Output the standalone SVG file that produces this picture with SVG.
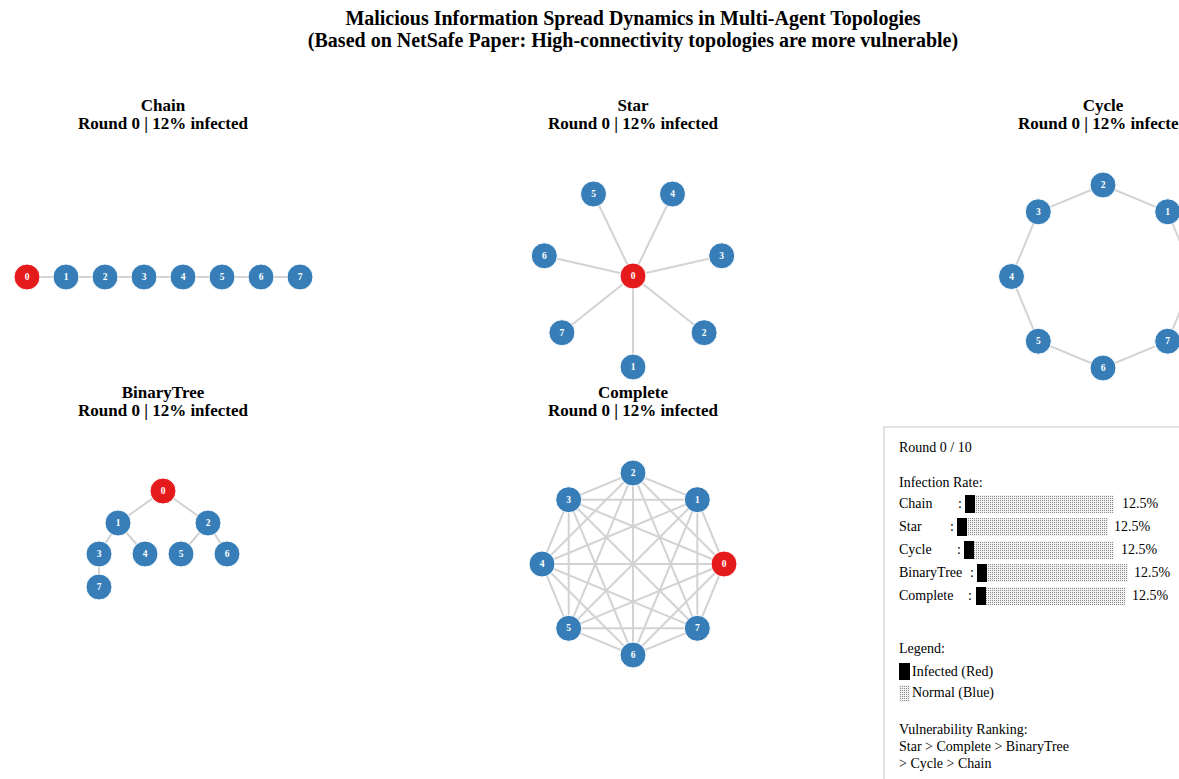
<svg xmlns="http://www.w3.org/2000/svg" width="1179" height="779" viewBox="0 0 1179 779">
  <style>
    .title { font-family: "Liberation Serif", "Times New Roman", serif; font-weight: bold; font-size: 20px; fill: #000; text-anchor: middle; }
    .sub { font-family: "Liberation Serif", "Times New Roman", serif; font-weight: bold; font-size: 17px; fill: #000; text-anchor: middle; }
    .edge { stroke: #d3d3d3; stroke-width: 2; fill: none; }
    .node circle { stroke: #ffffff; stroke-width: 1; }
    .node.normal circle { fill: #377eb8; }
    .node.infected circle { fill: #e41a1c; }
    .node text { font-family: "Liberation Serif", "Times New Roman", serif; font-weight: bold; font-size: 9.5px; fill: #ffffff; text-anchor: middle; }
    .info { font-family: "Liberation Serif", "Times New Roman", serif; font-size: 14px; fill: #000; }
    .bar-on { fill: #000; }
    .bar-off { fill: url(#shade); }
  </style>
  <defs>
    <pattern id="shade" width="2" height="2" patternUnits="userSpaceOnUse">
      <rect width="2" height="2" fill="#f2f2f2"/>
      <rect width="1" height="1" fill="#8c8c8c"/>
    </pattern>
  </defs>

  <rect width="1179" height="779" fill="#ffffff"/>

  <!-- figure title -->
  <text class="title" x="633" y="25">Malicious Information Spread Dynamics in Multi-Agent Topologies</text>
  <text class="title" x="633" y="47">(Based on NetSafe Paper: High-connectivity topologies are more vulnerable)</text>

  <!-- panel headings -->
  <text class="sub" x="163" y="111">Chain</text>
  <text class="sub" x="163" y="129">Round 0 | 12% infected</text>
  <text class="sub" x="633" y="111">Star</text>
  <text class="sub" x="633" y="129">Round 0 | 12% infected</text>
  <text class="sub" x="1103" y="111">Cycle</text>
  <text class="sub" x="1103" y="129">Round 0 | 12% infected</text>
  <text class="sub" x="163" y="398">BinaryTree</text>
  <text class="sub" x="163" y="416">Round 0 | 12% infected</text>
  <text class="sub" x="633" y="398">Complete</text>
  <text class="sub" x="633" y="416">Round 0 | 12% infected</text>

  <!-- ===== Chain ===== -->
  <g id="chain-edges" class="edge">
    <line x1="27" y1="277" x2="66" y2="277"/>
    <line x1="66" y1="277" x2="105" y2="277"/>
    <line x1="105" y1="277" x2="144" y2="277"/>
    <line x1="144" y1="277" x2="183" y2="277"/>
    <line x1="183" y1="277" x2="222" y2="277"/>
    <line x1="222" y1="277" x2="261" y2="277"/>
    <line x1="261" y1="277" x2="300" y2="277"/>
  </g>
  <g id="chain-n0" class="node infected"><circle cx="27" cy="277" r="13"/><text x="27" y="280">0</text></g>
  <g id="chain-n1" class="node normal"><circle cx="66" cy="277" r="13"/><text x="66" y="280">1</text></g>
  <g id="chain-n2" class="node normal"><circle cx="105" cy="277" r="13"/><text x="105" y="280">2</text></g>
  <g id="chain-n3" class="node normal"><circle cx="144" cy="277" r="13"/><text x="144" y="280">3</text></g>
  <g id="chain-n4" class="node normal"><circle cx="183" cy="277" r="13"/><text x="183" y="280">4</text></g>
  <g id="chain-n5" class="node normal"><circle cx="222" cy="277" r="13"/><text x="222" y="280">5</text></g>
  <g id="chain-n6" class="node normal"><circle cx="261" cy="277" r="13"/><text x="261" y="280">6</text></g>
  <g id="chain-n7" class="node normal"><circle cx="300" cy="277" r="13"/><text x="300" y="280">7</text></g>

  <!-- ===== Star ===== -->
  <g id="star-edges" class="edge">
    <line x1="633" y1="276" x2="633" y2="367"/>
    <line x1="633" y1="276" x2="704.1" y2="332.7"/>
    <line x1="633" y1="276" x2="721.7" y2="255.8"/>
    <line x1="633" y1="276" x2="672.5" y2="194"/>
    <line x1="633" y1="276" x2="593.5" y2="194"/>
    <line x1="633" y1="276" x2="544.3" y2="255.8"/>
    <line x1="633" y1="276" x2="561.9" y2="332.7"/>
  </g>
  <g id="star-n0" class="node infected"><circle cx="633" cy="276" r="13"/><text x="633" y="279">0</text></g>
  <g id="star-n1" class="node normal"><circle cx="633" cy="367" r="13"/><text x="633" y="370">1</text></g>
  <g id="star-n2" class="node normal"><circle cx="704.1" cy="332.7" r="13"/><text x="704.1" y="335.7">2</text></g>
  <g id="star-n3" class="node normal"><circle cx="721.7" cy="255.8" r="13"/><text x="721.7" y="258.8">3</text></g>
  <g id="star-n4" class="node normal"><circle cx="672.5" cy="194" r="13"/><text x="672.5" y="197">4</text></g>
  <g id="star-n5" class="node normal"><circle cx="593.5" cy="194" r="13"/><text x="593.5" y="197">5</text></g>
  <g id="star-n6" class="node normal"><circle cx="544.3" cy="255.8" r="13"/><text x="544.3" y="258.8">6</text></g>
  <g id="star-n7" class="node normal"><circle cx="561.9" cy="332.7" r="13"/><text x="561.9" y="335.7">7</text></g>

  <!-- ===== Cycle ===== -->
  <g id="cycle-edges" class="edge">
    <line x1="1194.5" y1="276.5" x2="1167.7" y2="211.8"/>
    <line x1="1167.7" y1="211.8" x2="1103" y2="185"/>
    <line x1="1103" y1="185" x2="1038.3" y2="211.8"/>
    <line x1="1038.3" y1="211.8" x2="1011.5" y2="276.5"/>
    <line x1="1011.5" y1="276.5" x2="1038.3" y2="341.2"/>
    <line x1="1038.3" y1="341.2" x2="1103" y2="368"/>
    <line x1="1103" y1="368" x2="1167.7" y2="341.2"/>
    <line x1="1167.7" y1="341.2" x2="1194.5" y2="276.5"/>
  </g>
  <g id="cycle-n0" class="node infected"><circle cx="1194.5" cy="276.5" r="13"/><text x="1194.5" y="279.5">0</text></g>
  <g id="cycle-n1" class="node normal"><circle cx="1167.7" cy="211.8" r="13"/><text x="1167.7" y="214.8">1</text></g>
  <g id="cycle-n2" class="node normal"><circle cx="1103" cy="185" r="13"/><text x="1103" y="188">2</text></g>
  <g id="cycle-n3" class="node normal"><circle cx="1038.3" cy="211.8" r="13"/><text x="1038.3" y="214.8">3</text></g>
  <g id="cycle-n4" class="node normal"><circle cx="1011.5" cy="276.5" r="13"/><text x="1011.5" y="279.5">4</text></g>
  <g id="cycle-n5" class="node normal"><circle cx="1038.3" cy="341.2" r="13"/><text x="1038.3" y="344.2">5</text></g>
  <g id="cycle-n6" class="node normal"><circle cx="1103" cy="368" r="13"/><text x="1103" y="371">6</text></g>
  <g id="cycle-n7" class="node normal"><circle cx="1167.7" cy="341.2" r="13"/><text x="1167.7" y="344.2">7</text></g>

  <!-- ===== BinaryTree ===== -->
  <g id="tree-edges" class="edge">
    <line x1="163" y1="491" x2="118" y2="523"/>
    <line x1="163" y1="491" x2="208" y2="523"/>
    <line x1="118" y1="523" x2="99" y2="554"/>
    <line x1="118" y1="523" x2="145" y2="554"/>
    <line x1="208" y1="523" x2="181" y2="554"/>
    <line x1="208" y1="523" x2="227" y2="554"/>
    <line x1="99" y1="554" x2="99" y2="587"/>
  </g>
  <g id="tree-n0" class="node infected"><circle cx="163" cy="491" r="13"/><text x="163" y="494">0</text></g>
  <g id="tree-n1" class="node normal"><circle cx="118" cy="523" r="13"/><text x="118" y="526">1</text></g>
  <g id="tree-n2" class="node normal"><circle cx="208" cy="523" r="13"/><text x="208" y="526">2</text></g>
  <g id="tree-n3" class="node normal"><circle cx="99" cy="554" r="13"/><text x="99" y="557">3</text></g>
  <g id="tree-n4" class="node normal"><circle cx="145" cy="554" r="13"/><text x="145" y="557">4</text></g>
  <g id="tree-n5" class="node normal"><circle cx="181" cy="554" r="13"/><text x="181" y="557">5</text></g>
  <g id="tree-n6" class="node normal"><circle cx="227" cy="554" r="13"/><text x="227" y="557">6</text></g>
  <g id="tree-n7" class="node normal"><circle cx="99" cy="587" r="13"/><text x="99" y="590">7</text></g>

  <!-- ===== Complete ===== -->
  <g id="complete-edges" class="edge">
    <line x1="724" y1="564" x2="697.3" y2="499.7"/>
    <line x1="724" y1="564" x2="633" y2="473"/>
    <line x1="724" y1="564" x2="568.7" y2="499.7"/>
    <line x1="724" y1="564" x2="542" y2="564"/>
    <line x1="724" y1="564" x2="568.7" y2="628.3"/>
    <line x1="724" y1="564" x2="633" y2="655"/>
    <line x1="724" y1="564" x2="697.3" y2="628.3"/>
    <line x1="697.3" y1="499.7" x2="633" y2="473"/>
    <line x1="697.3" y1="499.7" x2="568.7" y2="499.7"/>
    <line x1="697.3" y1="499.7" x2="542" y2="564"/>
    <line x1="697.3" y1="499.7" x2="568.7" y2="628.3"/>
    <line x1="697.3" y1="499.7" x2="633" y2="655"/>
    <line x1="697.3" y1="499.7" x2="697.3" y2="628.3"/>
    <line x1="633" y1="473" x2="568.7" y2="499.7"/>
    <line x1="633" y1="473" x2="542" y2="564"/>
    <line x1="633" y1="473" x2="568.7" y2="628.3"/>
    <line x1="633" y1="473" x2="633" y2="655"/>
    <line x1="633" y1="473" x2="697.3" y2="628.3"/>
    <line x1="568.7" y1="499.7" x2="542" y2="564"/>
    <line x1="568.7" y1="499.7" x2="568.7" y2="628.3"/>
    <line x1="568.7" y1="499.7" x2="633" y2="655"/>
    <line x1="568.7" y1="499.7" x2="697.3" y2="628.3"/>
    <line x1="542" y1="564" x2="568.7" y2="628.3"/>
    <line x1="542" y1="564" x2="633" y2="655"/>
    <line x1="542" y1="564" x2="697.3" y2="628.3"/>
    <line x1="568.7" y1="628.3" x2="633" y2="655"/>
    <line x1="568.7" y1="628.3" x2="697.3" y2="628.3"/>
    <line x1="633" y1="655" x2="697.3" y2="628.3"/>
  </g>
  <g id="complete-n0" class="node infected"><circle cx="724" cy="564" r="13"/><text x="724" y="567">0</text></g>
  <g id="complete-n1" class="node normal"><circle cx="697.3" cy="499.7" r="13"/><text x="697.3" y="502.7">1</text></g>
  <g id="complete-n2" class="node normal"><circle cx="633" cy="473" r="13"/><text x="633" y="476">2</text></g>
  <g id="complete-n3" class="node normal"><circle cx="568.7" cy="499.7" r="13"/><text x="568.7" y="502.7">3</text></g>
  <g id="complete-n4" class="node normal"><circle cx="542" cy="564" r="13"/><text x="542" y="567">4</text></g>
  <g id="complete-n5" class="node normal"><circle cx="568.7" cy="628.3" r="13"/><text x="568.7" y="631.3">5</text></g>
  <g id="complete-n6" class="node normal"><circle cx="633" cy="655" r="13"/><text x="633" y="658">6</text></g>
  <g id="complete-n7" class="node normal"><circle cx="697.3" cy="628.3" r="13"/><text x="697.3" y="631.3">7</text></g>

  <!-- ===== status panel ===== -->
  <g id="status-panel">
    <rect x="884" y="427" width="310" height="370" fill="#ffffff" stroke="#d9d9d9" stroke-width="1.5"/>
    <text class="info" x="899" y="452">Round 0 / 10</text>
    <text class="info" x="899" y="487">Infection Rate:</text>

    <text class="info" x="899" y="508">Chain</text>
    <text class="info" x="958" y="508">:</text>
    <rect class="bar-on" x="965" y="495" width="10" height="18"/>
    <rect class="bar-off" x="975" y="495" width="139" height="18"/>
    <text class="info" x="1122" y="508">12.5%</text>

    <text class="info" x="899" y="531">Star</text>
    <text class="info" x="950" y="531">:</text>
    <rect class="bar-on" x="957" y="518" width="10" height="18"/>
    <rect class="bar-off" x="967" y="518" width="141" height="18"/>
    <text class="info" x="1114" y="531">12.5%</text>

    <text class="info" x="899" y="554">Cycle</text>
    <text class="info" x="957" y="554">:</text>
    <rect class="bar-on" x="964" y="541" width="10" height="18"/>
    <rect class="bar-off" x="974" y="541" width="140" height="18"/>
    <text class="info" x="1121" y="554">12.5%</text>

    <text class="info" x="899" y="577">BinaryTree</text>
    <text class="info" x="970" y="577">:</text>
    <rect class="bar-on" x="977" y="564" width="10" height="18"/>
    <rect class="bar-off" x="987" y="564" width="141" height="18"/>
    <text class="info" x="1134" y="577">12.5%</text>

    <text class="info" x="899" y="600">Complete</text>
    <text class="info" x="968" y="600">:</text>
    <rect class="bar-on" x="976" y="587" width="10" height="18"/>
    <rect class="bar-off" x="986" y="587" width="139" height="18"/>
    <text class="info" x="1132" y="600">12.5%</text>

    <text class="info" x="899" y="653">Legend:</text>
    <rect class="bar-on" x="899" y="663" width="11" height="17"/>
    <text class="info" x="912" y="676">Infected (Red)</text>
    <rect class="bar-off" x="899" y="685" width="11" height="17"/>
    <text class="info" x="912" y="697">Normal (Blue)</text>

    <text class="info" x="899" y="734">Vulnerability Ranking:</text>
    <text class="info" x="899" y="751">Star &gt; Complete &gt; BinaryTree</text>
    <text class="info" x="899" y="768">&gt; Cycle &gt; Chain</text>
  </g>
</svg>
